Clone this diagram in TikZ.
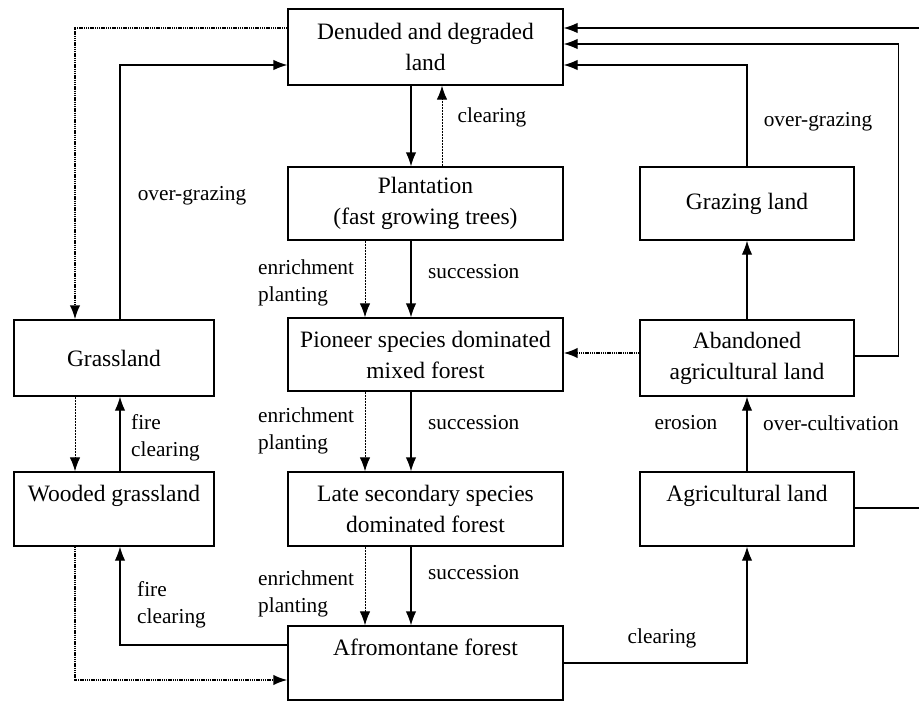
\documentclass[tikz,border=0pt]{standalone}
\usepackage{fontspec}
\setmainfont{Liberation Serif}
\usetikzlibrary{arrows.meta}
\begin{document}
\begin{tikzpicture}[x=1pt,y=-1pt,
  box/.style={draw,line width=1.3pt,inner sep=0pt,align=center,font=\fontsize{23.5}{31}\selectfont},
  lab/.style={font=\fontsize{21.3}{27}\selectfont,inner sep=0pt,align=left},
  arr/.style={line width=1.3pt,-{Latex[length=14pt,width=10.5pt]}},
  thindot/.style={arr,line width=1pt,dash pattern=on 2pt off 1pt},
  thickdot/.style={arr,line width=1.8pt,dash pattern=on 1.4pt off 0.8pt},
]
\useasboundingbox[fill=white] (0,0) rectangle (919,701);
\clip (0,0) rectangle (919,701);

% boxes
\node[box,minimum width=275pt,minimum height=76pt] (den) at (425.5,47) {Denuded and degraded\\land};
\node[box,minimum width=275pt,minimum height=73pt] (plant) at (425.5,203.5) {Plantation\\(fast growing trees)};
\node[box,minimum width=275pt,minimum height=73pt] (pion) at (425.5,354.5) {Pioneer species dominated\\mixed forest};
\node[box,minimum width=275pt,minimum height=74pt] (late) at (425.5,509) {Late secondary species\\dominated forest};
\node[box,minimum width=275pt,minimum height=74pt] (afro) at (425.5,663) {Afromontane forest\\\mbox{}};
\node[box,minimum width=200pt,minimum height=76pt] (grass) at (114,358) {Grassland};
\node[box,minimum width=200pt,minimum height=74pt] (wood) at (114,509) {Wooded grassland\\\mbox{}};
\node[box,minimum width=214pt,minimum height=73pt] (graz) at (747,203.5) {Grazing land};
\node[box,minimum width=214pt,minimum height=76pt] (aban) at (747,358) {Abandoned\\agricultural land};
\node[box,minimum width=214pt,minimum height=74pt] (agri) at (747,509) {Agricultural land\\\mbox{}};

% centre column
\draw[arr] ([xshift=-14.5pt]den.south) -- ([xshift=-14.5pt]plant.north);
\draw[thindot] ([xshift=16.5pt]plant.north) -- ([xshift=16.5pt]den.south);
\node[lab] (lclear1) at (492,117) {clearing};

\draw[thindot] ([xshift=-60.5pt]plant.south) -- ([xshift=-60.5pt]pion.north);
\draw[arr] ([xshift=-14.5pt]plant.south) -- ([xshift=-14.5pt]pion.north);
\node[lab,anchor=west] (lenr1) at (258,283) {enrichment\\planting};
\node[lab,anchor=west] (lsuc1) at (428,272) {succession};

\draw[thindot] ([xshift=-60.5pt]pion.south) -- ([xshift=-60.5pt]late.north);
\draw[arr] ([xshift=-14.5pt]pion.south) -- ([xshift=-14.5pt]late.north);
\node[lab,anchor=west] (lenr2) at (258,431) {enrichment\\planting};
\node[lab,anchor=west] (lsuc2) at (428,423) {succession};

\draw[thindot] ([xshift=-60.5pt]late.south) -- ([xshift=-60.5pt]afro.north);
\draw[arr] ([xshift=-14.5pt]late.south) -- ([xshift=-14.5pt]afro.north);
\node[lab,anchor=west] (lenr3) at (258,594) {enrichment\\planting};
\node[lab,anchor=west] (lsuc3) at (428,573) {succession};

% left side
\draw[thickdot] ([yshift=19pt]den.west) -| ([xshift=-39pt]grass.north);
\draw[arr] ([xshift=6pt]grass.north) |- ([yshift=-18pt]den.west);
\node[lab] (lover1) at (192,196) {over-grazing};

\draw[thindot] ([xshift=-39pt]grass.south) -- ([xshift=-39pt]wood.north);
\draw[arr] ([xshift=6pt]wood.north) -- ([xshift=6pt]grass.south);
\node[lab,anchor=west] (lfire1) at (131,438) {fire\\clearing};

\draw[thickdot] ([xshift=-39pt]wood.south) |- ([yshift=-17pt]afro.west);
\draw[arr] ([yshift=18pt]afro.west) -| ([xshift=6pt]wood.south);
\node[lab,anchor=west] (lfire2) at (137,605) {fire\\clearing};

% right side
\draw[arr] (afro.east) -| (agri.south);
\node[lab] (lclear2) at (662,638) {clearing};

\draw[arr] (agri.north) -- (aban.south);
\node[lab] (leros) at (686,423) {erosion};
\node[lab] (lcult) at (831,423) {over-cultivation};

\draw[arr] (aban.north) -- (graz.south);
\draw[thickdot] ([yshift=5pt]aban.west) -- ([yshift=5pt]aban.west -| pion.east);

\draw[arr] (graz.north) |- ([yshift=-18pt]den.east);
\node[lab] (lover2) at (818,122) {over-grazing};

\draw[arr] ([yshift=2pt]aban.east) -- ++(44,0) |- ([yshift=3pt]den.east);
\draw[arr] ([yshift=1pt]agri.east) -- ++(80,0) |- ([yshift=19pt]den.east);
\end{tikzpicture}
\end{document}
